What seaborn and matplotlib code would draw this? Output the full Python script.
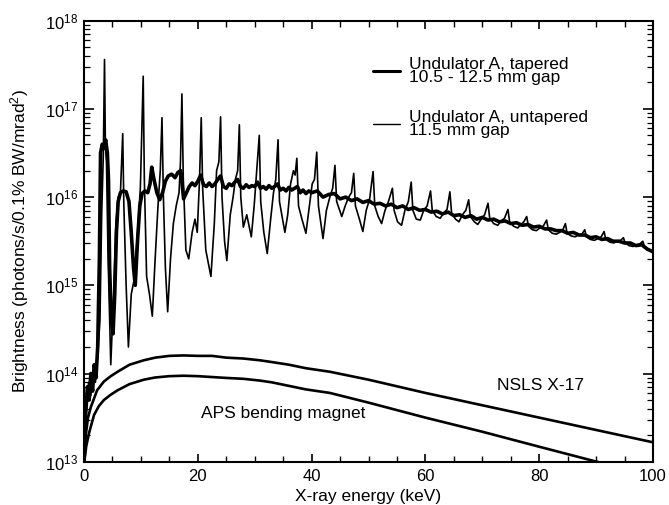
import numpy as np
import pandas as pd
import matplotlib
matplotlib.use("Agg")
import matplotlib.pyplot as plt
import seaborn as sns
from matplotlib.ticker import LogLocator, MultipleLocator, LogFormatterSciNotation, NullFormatter

# energies in keV, brightness stored as log10 values
tapered_kev = [0.0, 0.3, 0.6, 0.9, 1.2, 1.5, 1.8, 2.1, 2.4, 2.7, 2.9, 3.2, 3.5, 3.8, 4.1, 4.3, 4.5, 4.8,
               5.1, 5.4, 5.7, 6.0, 6.4, 6.9, 7.4, 7.9, 8.3, 8.7, 9.0, 9.4, 9.8, 10.2, 10.7, 11.2, 11.6,
               11.9, 12.3, 12.8, 13.3, 13.8, 14.3, 14.8, 15.4, 16.0, 16.5, 17.0, 17.5, 18.0, 18.5, 19.0,
               19.5, 20.0, 20.5, 21.0, 21.5, 22.0, 22.5, 23.0, 23.5, 24.0, 24.5, 25.0, 25.5, 26.0, 26.5,
               27.0, 27.5, 28.0, 28.5, 29.0, 29.5, 30.0, 30.5, 31.0, 31.5, 32.0, 32.5, 33.0, 33.5, 34.0,
               34.5, 35.0, 35.5, 36.0, 36.5, 37.0, 37.5, 38.0, 38.5, 39.0, 39.5, 40.0, 41, 42, 43, 44, 45,
               46, 47, 48, 49, 50, 51, 52, 53, 54, 55, 56, 57, 58, 59, 60, 61, 62, 63, 64, 65, 66, 67, 68,
               69, 70, 71, 72, 73, 74, 75, 76, 77, 78, 79, 80, 81, 82, 83, 84, 85, 86, 87, 88, 89, 90, 91,
               92, 93, 94, 95, 96, 97, 98, 99, 100]
tapered_log = [13.0, 13.55, 13.85, 13.7, 14.0, 13.8, 14.1, 13.95, 14.3, 15.3, 16.5, 16.6, 16.55, 16.65, 16.5,
               16.2, 15.2, 14.6, 14.45, 14.9, 15.6, 15.95, 16.05, 16.07, 16.06, 15.95, 15.6, 15.2, 15.0,
               15.5, 15.9, 16.04, 16.07, 16.05, 16.15, 16.34, 16.2, 16.05, 15.97, 16.05, 16.18, 16.24,
               16.26, 16.22, 16.28, 16.3, 15.98, 16.05, 16.12, 16.16, 16.13, 16.18, 16.25, 16.14, 16.12,
               16.16, 16.12, 16.15, 16.2, 16.24, 16.12, 16.1, 16.15, 16.13, 16.17, 16.2, 16.12, 16.1,
               16.14, 16.11, 16.13, 16.12, 16.17, 16.1, 16.12, 16.09, 16.13, 16.1, 16.12, 16.15, 16.08,
               16.1, 16.07, 16.11, 16.08, 16.1, 16.12, 16.05, 16.08, 16.04, 16.07, 16.05, 16.07, 16.0,
               16.03, 16.04, 15.98, 16.0, 15.96, 15.98, 15.94, 15.96, 15.92, 15.93, 15.9, 15.92, 15.88,
               15.9, 15.86, 15.88, 15.85, 15.86, 15.83, 15.84, 15.81, 15.83, 15.79, 15.8, 15.77, 15.79,
               15.75, 15.77, 15.74, 15.75, 15.72, 15.73, 15.7, 15.71, 15.68, 15.69, 15.66, 15.67, 15.64,
               15.64, 15.62, 15.62, 15.59, 15.6, 15.57, 15.57, 15.54, 15.55, 15.52, 15.53, 15.5, 15.5,
               15.48, 15.48, 15.45, 15.46, 15.41, 15.38]

untapered_kev = [0.0, 0.4, 0.8, 1.2, 1.6, 2.0, 2.4, 2.8, 3.1, 3.4, 3.6, 3.75, 3.95, 4.2, 4.7, 5.2, 5.6, 6.0,
                 6.4, 6.8, 7.0, 7.4, 7.8, 8.3, 8.8, 9.3, 9.9, 10.4, 10.6, 11.0, 11.5, 12.0, 12.5, 13.0,
                 13.4, 13.7, 13.95, 14.3, 14.7, 15.2, 15.7, 16.2, 16.7, 16.95, 17.2, 17.45, 17.9, 18.4,
                 19.0, 19.5, 19.9, 20.3, 20.6, 20.85, 21.4, 22.3, 22.9, 23.3, 23.7, 24.0, 24.25, 24.7,
                 25.1, 25.7, 26.2, 26.6, 27.0, 27.3, 27.55, 28.0, 28.6, 29.4, 29.9, 30.3, 30.8, 31.05,
                 31.6, 32.2, 32.8, 33.3, 33.7, 34.1, 34.35, 34.9, 35.3, 35.8, 36.3, 36.8, 37.1, 37.4,
                 37.7, 38.3, 39.0, 39.6, 40.1, 40.5, 40.9, 41.2, 42.0, 42.6, 43.2, 43.7, 44.1, 44.4,
                 45.3, 45.9, 46.5, 47.0, 47.4, 47.7, 48.4, 49.0, 49.6, 50.2, 50.8, 51.1, 51.7, 52.3,
                 52.9, 53.5, 54.2, 54.5, 55.1, 55.8, 56.4, 57.0, 57.5, 57.8, 58.4, 59.1, 59.7, 60.3,
                 60.9, 61.2, 61.9, 62.6, 63.2, 63.8, 64.3, 64.6, 65.3, 65.9, 66.5, 67.1, 67.6, 67.9,
                 68.6, 69.2, 69.8, 70.4, 71.0, 71.3, 72.0, 72.7, 73.3, 73.9, 74.5, 74.8, 75.5, 76.2,
                 76.8, 77.3, 77.8, 78.1, 78.8, 79.5, 80.1, 80.7, 81.3, 81.6, 82.3, 83.0, 83.6, 84.1,
                 84.6, 84.9, 85.6, 86.3, 86.9, 87.5, 88.0, 88.3, 89.0, 89.7, 90.3, 90.9, 91.4, 91.7,
                 92.4, 93.1, 93.7, 94.3, 94.8, 95.1, 95.8, 96.5, 97.1, 97.7, 98.2, 98.5, 99.2, 100.0]
untapered_log = [13.0, 13.6, 13.9, 13.75, 14.05, 13.9, 14.2, 14.6, 15.8, 16.5, 17.56, 16.6, 16.4, 15.4,
                 14.1, 14.9, 15.7, 16.0, 16.05, 16.72, 15.9, 15.0, 14.3, 14.9, 15.06, 15.5, 16.1, 17.37,
                 16.2, 15.1, 14.9, 14.65, 15.3, 15.9, 16.3, 16.9, 16.0, 15.2, 14.7, 15.3, 15.7, 15.9,
                 16.05, 16.4, 17.17, 16.2, 15.4, 15.3, 15.6, 15.75, 15.6, 16.2, 16.9, 16.1, 15.4, 15.1,
                 15.7, 16.3, 16.4, 16.91, 16.0, 15.5, 15.28, 15.8, 16.0, 16.2, 16.3, 16.82, 16.0, 15.66,
                 15.8, 15.55, 15.9, 16.25, 16.7, 15.95, 15.6, 15.36, 15.75, 16.05, 16.2, 16.65, 15.95,
                 15.75, 15.6, 15.8, 16.15, 16.3, 16.25, 16.44, 15.9, 15.75, 15.59, 15.9, 16.15, 16.2,
                 16.51, 15.9, 15.53, 15.85, 16.0, 16.1, 16.36, 15.95, 15.78, 15.9, 16.0, 16.05, 16.27,
                 15.9, 15.75, 15.61, 15.85, 15.98, 16.29, 15.9, 15.78, 15.7, 15.85, 15.95, 16.1, 15.85,
                 15.72, 15.68, 15.85, 15.95, 16.17, 15.85, 15.75, 15.74, 15.85, 15.9, 16.07, 15.85,
                 15.78, 15.76, 15.82, 15.86, 16.06, 15.82, 15.75, 15.72, 15.8, 15.85, 15.97, 15.78,
                 15.72, 15.69, 15.75, 15.8, 15.93, 15.76, 15.7, 15.68, 15.73, 15.76, 15.86, 15.72,
                 15.67, 15.65, 15.69, 15.72, 15.78, 15.67, 15.63, 15.62, 15.65, 15.67, 15.74, 15.63,
                 15.59, 15.58, 15.6, 15.62, 15.7, 15.59, 15.56, 15.55, 15.57, 15.58, 15.63, 15.55,
                 15.52, 15.51, 15.53, 15.55, 15.61, 15.52, 15.49, 15.48, 15.5, 15.51, 15.54, 15.48,
                 15.45, 15.44, 15.46, 15.47, 15.5, 15.44, 15.41, 15.38]

nsls_kev = [0.05, 0.3, 0.7, 1.2, 2.3, 3.5, 4.7, 5.9, 8, 10.5, 12.5, 15, 17.5, 20, 22.5, 25, 28, 30.9,
            33, 36, 39, 43.2, 50, 60, 70, 80, 90, 100]
nsls_log = [13.0, 13.3, 13.5, 13.62, 13.81, 13.91, 13.97, 14.02, 14.1, 14.15, 14.18, 14.2, 14.205,
            14.2, 14.2, 14.18, 14.17, 14.15, 14.13, 14.1, 14.06, 14.02, 13.93, 13.78, 13.64, 13.5,
            13.36, 13.22]

aps_kev = [0.05, 0.4, 0.9, 1.76, 2.6, 3.5, 4.7, 5.9, 8, 10.5, 12.5, 15, 17.5, 20, 22.5, 25, 28, 30.9,
           33, 36, 39, 43.2, 50, 60, 70, 80, 89.5, 92]
aps_log = [13.0, 13.18, 13.33, 13.53, 13.63, 13.7, 13.76, 13.81, 13.88, 13.93, 13.955, 13.97, 13.975,
           13.97, 13.96, 13.95, 13.94, 13.92, 13.9, 13.86, 13.82, 13.78, 13.67, 13.5, 13.34, 13.17,
           13.01, 12.97]

tapered_label = "Undulator A, tapered\n10.5 - 12.5 mm gap"
untapered_label = "Undulator A, untapered\n11.5 mm gap"

sns.set_theme(style="ticks")
plt.rcParams["font.family"] = ["Liberation Sans", "DejaVu Sans"]
plt.rcParams["mathtext.fontset"] = "custom"
plt.rcParams["mathtext.rm"] = "Liberation Sans"
plt.rcParams["mathtext.it"] = "Liberation Sans:italic"
plt.rcParams["text.color"] = "black"
plt.rcParams["axes.labelcolor"] = "black"

fig = plt.figure(figsize=(6.69, 5.05), dpi=100)
ax = fig.add_axes([0.1256, 0.0857, 0.8505, 0.8733])

curves = [
    (nsls_kev, nsls_log, None, 1.9),
    (aps_kev, aps_log, None, 1.9),
    (untapered_kev, untapered_log, untapered_label, 1.2),
    (tapered_kev, tapered_log, tapered_label, 2.6),
]
for kev, logb, lab, lw in curves:
    df = pd.DataFrame({"kev": kev, "b": np.power(10.0, logb)})
    sns.lineplot(data=df, x="kev", y="b", ax=ax, color="black", linewidth=lw,
                 estimator=None, sort=False, label=lab, legend=False)

ax.set_yscale("log")
ax.set_xlim(0, 100)
ax.set_ylim(1e13, 1e18)

ax.xaxis.set_major_locator(MultipleLocator(20))
ax.xaxis.set_minor_locator(MultipleLocator(5))
ax.yaxis.set_major_locator(LogLocator(base=10))
ax.yaxis.set_minor_locator(LogLocator(base=10, subs=np.arange(2, 10)))
ax.yaxis.set_major_formatter(LogFormatterSciNotation())
ax.yaxis.set_minor_formatter(NullFormatter())
ax.tick_params(axis="both", which="both", direction="in", top=True, right=True, colors="black")
ax.tick_params(axis="x", which="major", length=6, width=1.2, labelsize=12, pad=5)
ax.tick_params(axis="x", which="minor", length=4, width=1.0)
ax.tick_params(axis="y", which="major", length=7, width=1.2, labelsize=12, pad=4)
ax.tick_params(axis="y", which="minor", length=4, width=0.9)
for s in ax.spines.values():
    s.set_linewidth(1.5)
    s.set_color("black")

ax.set_xlabel("X-ray energy (keV)", fontsize=12.5, labelpad=4)
ax.set_ylabel("Brightness (photons/s/0.1% BW/mrad$^2$)", fontsize=12.5, labelpad=10)

ax.text(72.5, 10**13.86, "NSLS X-17", fontsize=12.5, va="center", ha="left")
ax.text(20.6, 10**13.55, "APS bending magnet", fontsize=12.5, va="center", ha="left")

handles, labels = ax.get_legend_handles_labels()
order = [labels.index(tapered_label), labels.index(untapered_label)]
leg = ax.legend([handles[i] for i in order], [labels[i] for i in order],
                loc="upper left", bbox_to_anchor=(0.502, 0.925), frameon=False,
                fontsize=12.5, handlelength=1.55, handletextpad=0.5, labelspacing=1.47,
                borderpad=0.2, borderaxespad=0)
for t in leg.get_texts():
    t.set_linespacing(0.8)
    t.set_color("black")
leg.get_lines()[0].set_linewidth(2.2)
leg.get_lines()[1].set_linewidth(1.0)

fig.savefig("out.png", dpi=100)
